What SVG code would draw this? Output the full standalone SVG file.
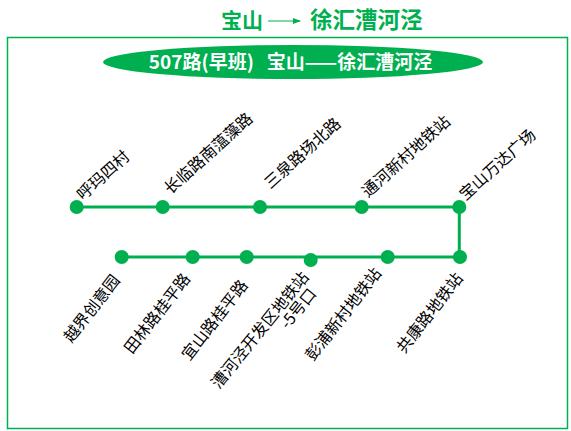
<svg xmlns="http://www.w3.org/2000/svg" width="571" height="431" viewBox="0 0 571 431">
<defs>
<style>
.t{font-family:"Noto Sans CJK SC","Noto Sans",sans-serif;}
.title{font-weight:bold;fill:#00b050;}
.lbl{font-size:16px;fill:#000;}
.line{stroke:#00b050;stroke-width:3;fill:none;}
.dot{fill:#00b050;}
</style>
<marker id="ah" markerWidth="8" markerHeight="8" refX="7" refY="4" orient="auto" markerUnits="userSpaceOnUse">
<path d="M0,1 L8,4 L0,7 Z" fill="#00b050"/>
</marker>
</defs>
<rect width="571" height="431" fill="#fff"/>
<g id="title">
<text class="t title" x="221" y="28" font-size="21">宝山</text>
<line x1="268" y1="21" x2="300" y2="21" stroke="#00b050" stroke-width="1" marker-end="url(#ah)"/>
<text class="t title" x="310" y="28" font-size="22.5">徐汇漕河泾</text>
</g>
<rect id="frame" x="7.5" y="37.5" width="560" height="391" fill="none" stroke="#00b050" stroke-width="1.5"/>
<g id="banner">
<ellipse cx="293" cy="62" rx="190" ry="17" fill="#00b050"/>
<text class="t" x="290.5" y="69" text-anchor="middle" font-size="19" font-weight="bold" fill="#fff" xml:space="preserve">507路(早班)   宝山——徐汇漕河泾</text>
</g>
<g id="connectors">
<polyline class="line" points="76.7,207 459.3,207 459.3,257 121.7,257"/>
</g>
<g id="s1"><circle class="dot" cx="76.7" cy="207" r="7"/><text class="t lbl" transform="translate(83.1,200.9) rotate(-42)">呼玛四村</text></g>
<g id="s2"><circle class="dot" cx="162.7" cy="207" r="7"/><text class="t lbl" transform="translate(170.6,194.9) rotate(-42)">长临路南蕰藻路</text></g>
<g id="s3"><circle class="dot" cx="260" cy="207" r="7"/><text class="t lbl" transform="translate(270.6,189.4) rotate(-42)">三泉路场北路</text></g>
<g id="s4"><circle class="dot" cx="361.7" cy="207" r="7"/><text class="t lbl" transform="translate(368.1,197.9) rotate(-42)">通河新村地铁站</text></g>
<g id="s5"><circle class="dot" cx="459.3" cy="207" r="7"/><text class="t lbl" transform="translate(465.6,200.9) rotate(-42)">宝山万达广场</text></g>
<g id="s6"><circle class="dot" cx="460" cy="257" r="7"/><text class="t lbl" text-anchor="end" transform="translate(463.7,278.5) rotate(-52)">共康路地铁站</text></g>
<g id="s7"><circle class="dot" cx="387.7" cy="257" r="7"/><text class="t lbl" text-anchor="end" transform="translate(382.2,273.5) rotate(-52)">彭浦新村地铁站</text></g>
<g id="s8"><circle class="dot" cx="310.7" cy="260" r="7"/><text class="t lbl" text-anchor="end" transform="translate(309.7,277.5) rotate(-51)">漕河泾开发区地铁站</text><text class="t lbl" text-anchor="end" transform="translate(317.2,294) rotate(-51)">-5号口</text></g>
<g id="s9"><circle class="dot" cx="246.7" cy="257" r="7"/><text class="t lbl" text-anchor="end" transform="translate(248.7,285.5) rotate(-52)">宜山路桂平路</text></g>
<g id="s10"><circle class="dot" cx="192.7" cy="257" r="7"/><text class="t lbl" text-anchor="end" transform="translate(191.2,279) rotate(-52)">田林路桂平路</text></g>
<g id="s11"><circle class="dot" cx="121.7" cy="257" r="7"/><text class="t lbl" text-anchor="end" transform="translate(120.7,280.5) rotate(-52)">越界创意园</text></g>
</svg>
